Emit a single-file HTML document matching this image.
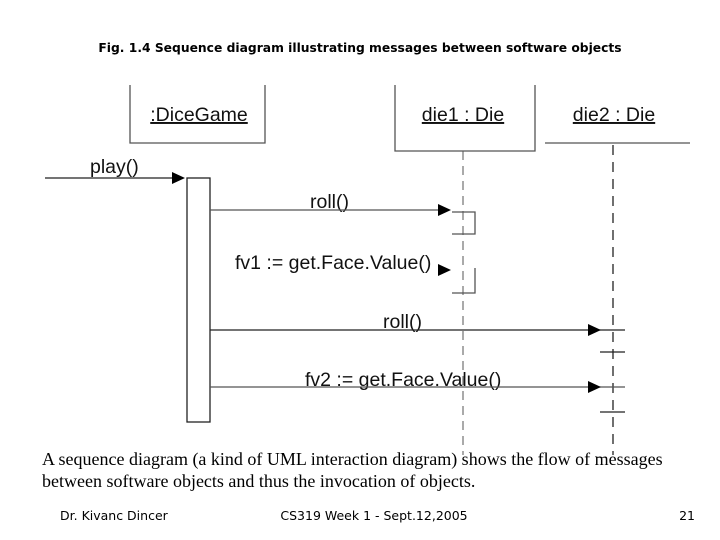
<!DOCTYPE html>
<html><head><style>
body{margin:0;width:720px;height:540px;background:#fff;overflow:hidden;position:relative}
</style></head><body>
<svg width="720" height="540" style="position:absolute;left:0;top:0" font-family="Liberation Sans, sans-serif">
<text x="360" y="52" font-size="12.3" font-weight="bold" text-anchor="middle" font-family="DejaVu Sans, sans-serif">Fig. 1.4 Sequence diagram illustrating messages between software objects</text>
<g stroke="#555" stroke-width="1.3" fill="none">
<polyline points="130,85 130,143 265,143 265,85"/>
<polyline points="395,85 395,151 535,151 535,85"/>
<line x1="545" y1="143" x2="690" y2="143"/>
</g>
<g stroke="#555" stroke-width="1" stroke-dasharray="9,6">
<line x1="463" y1="151" x2="463" y2="455"/>
</g>
<g stroke="#222" stroke-width="1.3" stroke-dasharray="10,7">
<line x1="613" y1="145" x2="613" y2="455"/>
</g>
<g font-size="19.5" fill="#111">
<text x="199" y="121" text-anchor="middle" text-decoration="underline">:DiceGame</text>
<text x="463" y="121" text-anchor="middle" text-decoration="underline">die1 : Die</text>
<text x="614" y="121" text-anchor="middle" text-decoration="underline">die2 : Die</text>
<text x="90" y="173">play()</text>
<text x="310" y="208">roll()</text>
<text x="235" y="269">fv1 := get.Face.Value()</text>
<text x="383" y="328">roll()</text>
<text x="305" y="386">fv2 := get.Face.Value()</text>
</g>
<rect x="187" y="178" width="23" height="244" fill="#fff" stroke="#222" stroke-width="1.3"/>
<g stroke="#222" stroke-width="1.3">
<line x1="45" y1="178" x2="172" y2="178"/>
<line x1="210" y1="210" x2="438" y2="210" stroke="#555"/>
<line x1="210" y1="330" x2="625" y2="330"/>
<line x1="210" y1="387" x2="625" y2="387" stroke="#555"/>
<line x1="600" y1="352" x2="625" y2="352"/>
<line x1="600" y1="412" x2="625" y2="412"/>
</g>
<g stroke="#555" stroke-width="1.3" fill="none">
<polyline points="452,212 475,212 475,234 452,234"/>
<polyline points="475,268 475,293 452,293"/>
</g>
<g fill="#000">
<polygon points="172,172 185,178 172,184"/>
<polygon points="438,204 451,210 438,216"/>
<polygon points="438,264 451,270 438,276"/>
<polygon points="588,324 601,330 588,336"/>
<polygon points="588,381 601,387 588,393"/>
</g>
<g font-family="Liberation Serif, serif" font-size="18" fill="#000">
<text x="42" y="465">A sequence diagram (a kind of UML interaction diagram) shows the flow of messages</text>
<text x="42" y="487">between software objects and thus the invocation of objects.</text>
</g>
<g font-size="12.5" fill="#000" font-family="DejaVu Sans, sans-serif">
<text x="60" y="520">Dr. Kivanc Dincer</text>
<text x="374" y="520" text-anchor="middle">CS319 Week 1 - Sept.12,2005</text>
<text x="695" y="520" text-anchor="end">21</text>
</g>
</svg>
</body></html>
